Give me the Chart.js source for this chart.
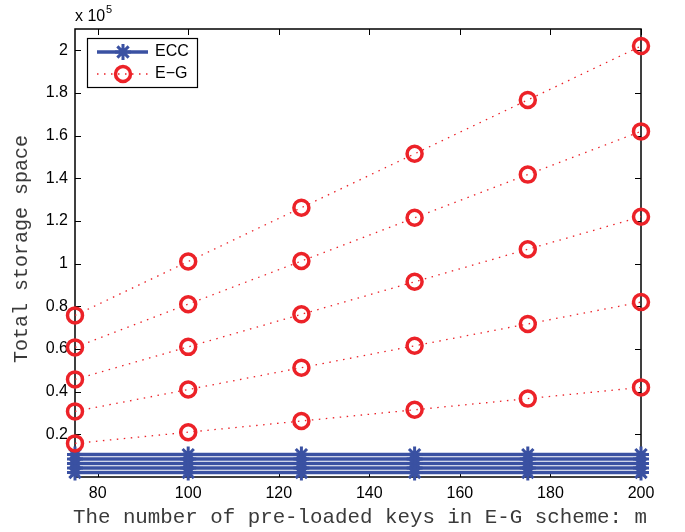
<!DOCTYPE html>
<html>

<head>
    <title>Total storage space</title>
    <script src="https://cdn.jsdelivr.net/npm/chart.js"></script>
    <style>
        body { margin: 0; background: #fff; }
    </style>
</head>

<body>
    <canvas id="storageChart" width="685" height="532"></canvas>

    <script>
        // x: number of pre-loaded keys m
        var mValues = [75, 100, 125, 150, 175, 200];
        var xTicks = [80, 100, 120, 140, 160, 180, 200];
        var yTicks = [20000, 40000, 60000, 80000, 100000, 120000, 140000, 160000, 180000, 200000];
        var yTickLabels = ['0.2', '0.4', '0.6', '0.8', '1', '1.2', '1.4', '1.6', '1.8', '2'];

        // ECC (flat lines near the bottom)
        var ecc1 = [2100, 2100, 2100, 2100, 2100, 2100];
        var ecc2 = [4200, 4200, 4200, 4200, 4200, 4200];
        var ecc3 = [6300, 6300, 6300, 6300, 6300, 6300];
        var ecc4 = [8400, 8400, 8400, 8400, 8400, 8400];
        var ecc5 = [10500, 10500, 10500, 10500, 10500, 10500];

        // E-G
        var eg1 = [15750, 21000, 26250, 31500, 36750, 42000];
        var eg2 = [30750, 41000, 51250, 61500, 71750, 82000];
        var eg3 = [45750, 61000, 76250, 91500, 106750, 122000];
        var eg4 = [60750, 81000, 101250, 121500, 141750, 162000];
        var eg5 = [75750, 101000, 126250, 151500, 176750, 202000];

        var BLUE = '#3a51a2';
        var RED = '#ec2228';

        function toPoints(ys) {
            return mValues.map(function (m, i) { return { x: m, y: ys[i] }; });
        }

        function eccSet(ys) {
            return {
                label: 'ECC', data: toPoints(ys), order: 2, clip: false,
                borderColor: BLUE, borderWidth: 3.5,
                pointStyle: 'star', pointRadius: 8, pointBorderWidth: 3,
                pointBorderColor: BLUE, pointBackgroundColor: BLUE
            };
        }

        function egSet(ys) {
            return {
                label: 'E-G', data: toPoints(ys), order: 1, clip: false,
                borderColor: RED, borderWidth: 1.3, borderDash: [1.5, 5.5],
                pointStyle: 'circle', pointRadius: 7.5, pointBorderWidth: 3.5,
                pointBorderColor: RED, pointBackgroundColor: 'rgba(0,0,0,0)'
            };
        }

        function line(ctx, x1, y1, x2, y2) {
            ctx.beginPath();
            ctx.moveTo(x1, y1);
            ctx.lineTo(x2, y2);
            ctx.stroke();
        }

        // box, inward tick marks, legend, titles
        var decorPlugin = {
            id: 'decor',
            beforeDatasetsDraw: function (chart) {
                var ctx = chart.ctx, a = chart.chartArea;
                var xs = chart.scales.x, ys = chart.scales.y;
                ctx.save();
                ctx.strokeStyle = '#000';
                ctx.lineWidth = 1.5;
                ctx.strokeRect(a.left, a.top, a.right - a.left, a.bottom - a.top);
                ctx.lineWidth = 1;
                xTicks.forEach(function (v) {
                    var px = Math.round(xs.getPixelForValue(v)) + 0.5;
                    line(ctx, px, a.bottom, px, a.bottom - 6);
                    line(ctx, px, a.top, px, a.top + 6);
                });
                yTicks.forEach(function (v) {
                    var py = Math.round(ys.getPixelForValue(v)) + 0.5;
                    line(ctx, a.left, py, a.left + 6, py);
                    line(ctx, a.right, py, a.right - 6, py);
                });
                ctx.restore();
            },
            afterDraw: function (chart) {
                var ctx = chart.ctx, a = chart.chartArea;
                ctx.save();

                // exponent label
                ctx.fillStyle = '#000';
                ctx.textBaseline = 'alphabetic';
                ctx.textAlign = 'left';
                ctx.font = '16px "Liberation Sans", Arial, sans-serif';
                ctx.fillText('x 10', a.left, 21);
                ctx.font = '11px "Liberation Sans", Arial, sans-serif';
                ctx.fillText('5', a.left + 31, 13);

                // axis titles
                ctx.textAlign = 'center';
                ctx.textBaseline = 'middle';
                ctx.fillStyle = '#3a3a3a';
                ctx.font = '20.8px "Liberation Mono", "Courier New", monospace';
                ctx.fillText('The number of pre-loaded keys in E-G scheme: m', 360, 517);
                ctx.font = '20px "Liberation Mono", "Courier New", monospace';
                ctx.translate(22, 249);
                ctx.rotate(-Math.PI / 2);
                ctx.fillText('Total storage space', 0, 0);
                ctx.restore();

                // legend
                ctx.save();
                var lx = 87, ly = 38, lw = 110, lh = 49;
                ctx.fillStyle = '#fff';
                ctx.fillRect(lx, ly, lw, lh);
                ctx.strokeStyle = '#000';
                ctx.lineWidth = 1.2;
                ctx.strokeRect(lx + 0.5, ly + 0.5, lw, lh);

                ctx.strokeStyle = BLUE;
                ctx.lineWidth = 3.5;
                line(ctx, 97, 52, 148, 52);
                ctx.strokeStyle = RED;
                ctx.lineWidth = 1.3;
                ctx.setLineDash([1.5, 5.5]);
                line(ctx, 97, 74, 148, 74);
                ctx.setLineDash([]);

                var h = Chart.helpers;
                if (h && h.drawPoint) {
                    ctx.strokeStyle = BLUE; ctx.fillStyle = BLUE; ctx.lineWidth = 3;
                    h.drawPoint(ctx, { pointStyle: 'star', radius: 8, borderWidth: 3 }, 123, 52);
                    ctx.strokeStyle = RED; ctx.fillStyle = 'rgba(0,0,0,0)'; ctx.lineWidth = 3.5;
                    h.drawPoint(ctx, { pointStyle: 'circle', radius: 7.5, borderWidth: 3.5 }, 123, 74);
                }

                ctx.fillStyle = '#000';
                ctx.font = '16px "Liberation Sans", Arial, sans-serif';
                ctx.textAlign = 'left';
                ctx.textBaseline = 'middle';
                ctx.fillText('ECC', 155, 52);
                ctx.fillText('E\u2212G', 155, 74);
                ctx.restore();
            }
        };

        var ctx = document.getElementById('storageChart').getContext('2d');
        var storageChart = new Chart(ctx, {
            type: 'line',
            data: {
                datasets: [
                    egSet(eg1), egSet(eg2), egSet(eg3), egSet(eg4), egSet(eg5),
                    eccSet(ecc1), eccSet(ecc2), eccSet(ecc3), eccSet(ecc4), eccSet(ecc5)
                ]
            },
            options: {
                responsive: false,
                animation: false,
                layout: { padding: { left: 0, right: 44, top: 29, bottom: 0 } },
                plugins: {
                    legend: { display: false },
                    tooltip: { enabled: false }
                },
                scales: {
                    x: {
                        type: 'linear',
                        min: 75,
                        max: 200,
                        grid: { display: false, drawTicks: false },
                        border: { display: false },
                        afterBuildTicks: function (scale) {
                            scale.ticks = xTicks.map(function (v) { return { value: v }; });
                        },
                        afterFit: function (scale) { scale.height = 55; },
                        ticks: {
                            padding: 7,
                            color: '#000',
                            font: { family: '"Liberation Sans", Arial, sans-serif', size: 16 },
                            maxRotation: 0,
                            autoSkip: false
                        }
                    },
                    y: {
                        type: 'linear',
                        min: 0,
                        max: 210000,
                        grid: { display: false, drawTicks: false },
                        border: { display: false },
                        afterBuildTicks: function (scale) {
                            scale.ticks = yTicks.map(function (v) { return { value: v }; });
                        },
                        afterFit: function (scale) { scale.width = 75; },
                        ticks: {
                            padding: 7,
                            color: '#000',
                            font: { family: '"Liberation Sans", Arial, sans-serif', size: 16 },
                            autoSkip: false,
                            callback: function (value, index) {
                                return yTickLabels[index];
                            }
                        }
                    }
                }
            },
            plugins: [decorPlugin]
        });
    </script>

</body>

</html>
